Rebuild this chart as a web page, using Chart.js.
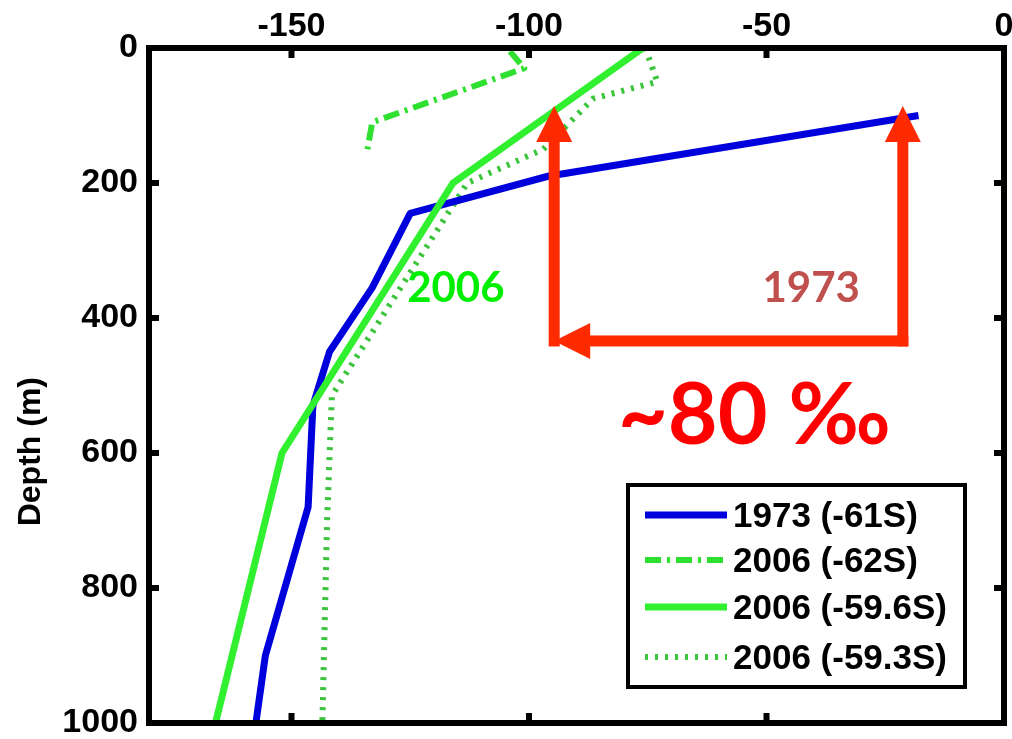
<!DOCTYPE html>
<html>
<head>
<meta charset="utf-8">
<script src="https://cdn.jsdelivr.net/npm/chart.js@4.4.1/dist/chart.umd.min.js"></script>
<style>
  html, body { margin: 0; padding: 0; background: #fff; }
  #wrap { width: 1012px; height: 739px; }
</style>
</head>
<body>
<div id="wrap"><canvas id="depthChart" width="1012" height="739"></canvas></div>
<script>
// profiles: depth (m) and value
var blue1973Depth = [100, 190, 245, 355, 450, 530, 680, 900, 1000];
var blue1973Value = [-18, -96, -125, -133, -142, -145.5, -146.5, -155.5, -157.5];

var dash62Depth = [5, 30, 110, 150];
var dash62Value = [-104, -101, -133, -134];

var solid596Depth = [0, 200, 600, 1000];
var solid596Value = [-76, -116, -152, -166];

var dot593Depth = [0, 50, 75, 150, 200, 515, 700, 1000];
var dot593Value = [-75.5, -73, -86.5, -97, -113, -141.5, -142.5, -143.5];

var seriesLabels = ["1973 (-61S)", "2006 (-62S)", "2006 (-59.6S)", "2006 (-59.3S)"];
var xTicks = [-150, -100, -50, 0];
var yTicks = [0, 200, 400, 600, 800, 1000];

// annotation anchors (data units)
var arrowLeftX = -94.7, arrowRightX = -21.3;
var arrowTipDepth = 86, arrowBaseDepth = 434;
var notes = [
  { text: "2006", x: -115.4, depth: 356, color: "#00ee00", font: "700 42px Lato" },
  { text: "1973", x: -40.6, depth: 356, color: "#c0504d", font: "700 42px Lato" },
  { text: "~80 \u2030", x: -52.6, depth: 545, color: "#ff0000", font: "700 86px Lato" }
];

function toPoints(vals, depths) {
  return vals.map(function (v, i) { return { x: v, y: depths[i] }; });
}

var tickFont = { family: "'Liberation Sans', Arial, sans-serif", size: 34, weight: "bold" };

var overlay = {
  id: "overlay",
  afterDatasetsDraw: function (chart) {
    var ctx = chart.ctx, a = chart.chartArea;
    var xs = chart.scales.x, ys = chart.scales.y;

    // frame + inward ticks
    ctx.save();
    ctx.strokeStyle = "#000";
    ctx.lineWidth = 6;
    ctx.strokeRect(a.left, a.top, a.right - a.left, a.bottom - a.top);
    ctx.fillStyle = "#000";
    xTicks.forEach(function (t) {
      var px = xs.getPixelForValue(t);
      ctx.fillRect(px - 3, a.top, 6, 10);
      ctx.fillRect(px - 3, a.bottom - 10, 6, 10);
    });
    yTicks.forEach(function (t) {
      var py = ys.getPixelForValue(t);
      ctx.fillRect(a.left, py - 3, 10, 6);
      ctx.fillRect(a.right - 10, py - 3, 10, 6);
    });

    // y title
    ctx.save();
    ctx.translate(31, ys.getPixelForValue(598));
    ctx.rotate(-Math.PI / 2);
    ctx.font = "bold 32px 'Liberation Sans', Arial, sans-serif";
    ctx.textAlign = "center";
    ctx.textBaseline = "middle";
    ctx.fillText("Depth (m)", 0, 0);
    ctx.restore();

    // red arrows
    var xl = xs.getPixelForValue(arrowLeftX), xr = xs.getPixelForValue(arrowRightX);
    var yt = ys.getPixelForValue(arrowTipDepth), yb = ys.getPixelForValue(arrowBaseDepth);
    var w = 11, headL = 36, headW = 18;
    ctx.fillStyle = "#ff2a00";
    ctx.fillRect(xl - w / 2, yt + headL - 1, w, yb + w / 2 - yt - headL + 1);
    ctx.fillRect(xr - w / 2, yt + headL - 1, w, yb + w / 2 - yt - headL + 1);
    ctx.fillRect(xl + headL - 1, yb - w / 2, xr + w / 2 - xl - headL + 1, w);
    [xl, xr].forEach(function (x) {
      ctx.beginPath();
      ctx.moveTo(x, yt);
      ctx.lineTo(x - headW, yt + headL);
      ctx.lineTo(x + headW, yt + headL);
      ctx.closePath();
      ctx.fill();
    });
    ctx.beginPath();
    ctx.moveTo(xl, yb);
    ctx.lineTo(xl + headL, yb - headW);
    ctx.lineTo(xl + headL, yb + headW);
    ctx.closePath();
    ctx.fill();

    // text notes
    ctx.textAlign = "center";
    ctx.textBaseline = "middle";
    notes.forEach(function (n) {
      ctx.font = n.font + ", 'Open Sans', sans-serif";
      ctx.fillStyle = n.color;
      ctx.fillText(n.text, xs.getPixelForValue(n.x), ys.getPixelForValue(n.depth));
    });

    // legend box
    var bw = 337, bh = 202;
    var bx = a.right - 39 - bw, by = a.bottom - 36 - bh;
    ctx.fillStyle = "#fff";
    ctx.fillRect(bx, by, bw, bh);
    ctx.lineWidth = 4;
    ctx.strokeStyle = "#000";
    ctx.strokeRect(bx, by, bw, bh);
    var rows = [30, 75, 122, 172];
    ctx.font = "bold 35px 'Liberation Sans', Arial, sans-serif";
    ctx.textAlign = "left";
    chart.data.datasets.forEach(function (ds, i) {
      var ry = by + rows[i];
      ctx.save();
      ctx.strokeStyle = ds.borderColor;
      ctx.lineWidth = ds.borderWidth;
      ctx.setLineDash(ds.borderDash || []);
      ctx.lineCap = "butt";
      ctx.beginPath();
      ctx.moveTo(bx + 17, ry);
      ctx.lineTo(bx + 99, ry);
      ctx.stroke();
      ctx.restore();
      ctx.fillStyle = "#000";
      ctx.fillText(ds.label, bx + 105, ry + 2);
    });
    ctx.restore();
  }
};

var chart = new Chart(document.getElementById("depthChart"), {
  type: "scatter",
  data: {
    datasets: [
      {
        label: seriesLabels[0],
        data: toPoints(blue1973Value, blue1973Depth),
        borderColor: "#0000dd",
        borderWidth: 7,
        order: 2
      },
      {
        label: seriesLabels[1],
        data: toPoints(dash62Value, dash62Depth),
        borderColor: "#30e030",
        borderWidth: 6,
        borderDash: [16, 6, 3, 6],
        order: 1
      },
      {
        label: seriesLabels[2],
        data: toPoints(solid596Value, solid596Depth),
        borderColor: "#30f030",
        borderWidth: 7,
        order: 0
      },
      {
        label: seriesLabels[3],
        data: toPoints(dot593Value, dot593Depth),
        borderColor: "#3dc43d",
        borderWidth: 6,
        borderDash: [3, 7],
        order: 3
      }
    ]
  },
  options: {
    responsive: false,
    animation: false,
    devicePixelRatio: 1,
    showLine: true,
    layout: { padding: { left: 0, top: 0, right: 8, bottom: 16 } },
    elements: {
      point: { radius: 0, hoverRadius: 0 },
      line: { tension: 0, borderJoinStyle: "round", borderCapStyle: "butt" }
    },
    plugins: { legend: { display: false }, tooltip: { enabled: false } },
    scales: {
      x: {
        type: "linear",
        position: "top",
        min: -180,
        max: 0,
        afterBuildTicks: function (s) { s.ticks = xTicks.map(function (v) { return { value: v }; }); },
        afterFit: function (s) { s.height = 48; s.paddingLeft = 0; s.paddingRight = 0; },
        grid: { display: false, drawTicks: false },
        border: { display: false },
        ticks: {
          font: tickFont, color: "#000", padding: 1, maxRotation: 0, autoSkip: false,
          callback: function (v) { return String(v); }
        }
      },
      y: {
        type: "linear",
        position: "left",
        reverse: true,
        min: 0,
        max: 1000,
        afterBuildTicks: function (s) { s.ticks = yTicks.map(function (v) { return { value: v }; }); },
        afterFit: function (s) { s.width = 149; s.paddingTop = 0; s.paddingBottom = 0; },
        grid: { display: false, drawTicks: false },
        border: { display: false },
        ticks: {
          font: tickFont, color: "#000", padding: 11, autoSkip: false,
          callback: function (v) { return String(v); }
        }
      }
    }
  },
  plugins: [overlay]
});
</script>
</body>
</html>
